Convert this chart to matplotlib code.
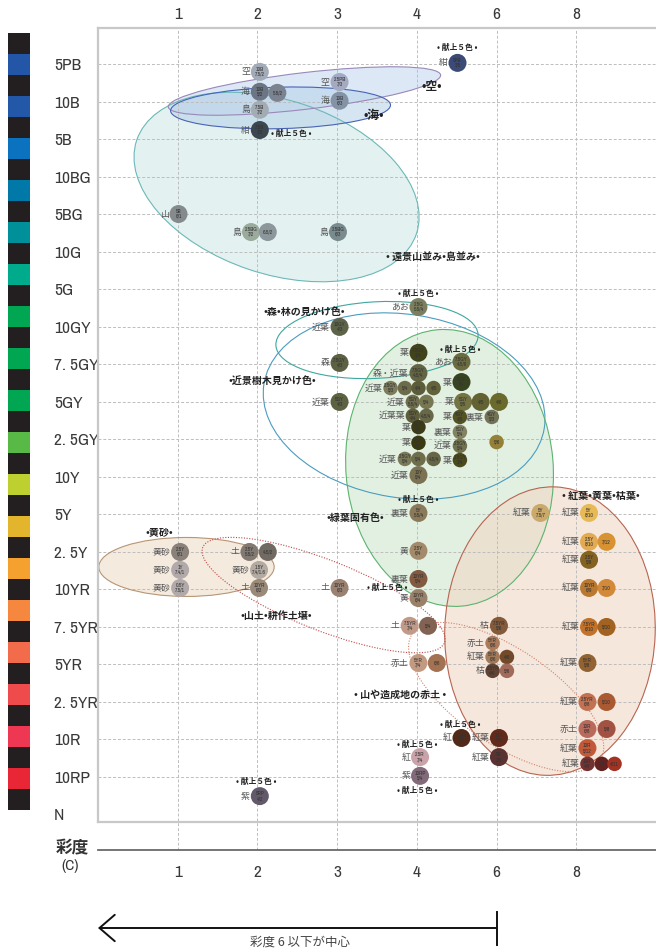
import matplotlib
matplotlib.use("Agg")
import matplotlib.pyplot as plt
from matplotlib.patches import Ellipse
from matplotlib import transforms, font_manager

plt.rcParams['font.family'] = ['Noto Sans CJK JP', 'DejaVu Sans']

# a narrow face for the Latin labels, if one is installed
def narrow_font():
    fonts = [f for f in font_manager.fontManager.ttflist
             if f.stretch in ('condensed', 'semi-condensed', 'extra-condensed')
             and f.style == 'normal' and f.weight in (400, 'normal', 'regular', 'book')]
    fonts.sort(key=lambda f: (0 if 'Liberation' in f.name else 1, f.name))
    if fonts:
        return font_manager.FontProperties(fname=fonts[0].fname)
    return font_manager.FontProperties(family='DejaVu Sans')

########################################################################
# data
hue_labels = ['5PB', '10B', '5B', '10BG', '5BG', '10G', '5G', '10GY', '7. 5GY', '5GY',
              '2. 5GY', '10Y', '5Y', '2. 5Y', '10YR', '7. 5YR', '5YR', '2. 5YR', '10R',
              '10RP', 'N']
chroma_labels = ['1', '2', '3', '4', '6', '8']
hue_strip = ['#2356a6', '#2358a8', '#0a72bf', '#0078a8', '#00909a', '#00ab8c',
             '#00a651', '#00a651', '#00a651', '#59b947', '#bdd02f', '#e2b52c',
             '#f5a12f', '#f5873e', '#f26b4b', '#ef4b4c', '#ee3753', '#e82636']

dot_name = ['空', '海', '', '島', '紺', '空', '海', '紺',
            '山', '島', '', '島',
            'あお', '近葉', '森', '近葉', '葉', '森・近葉', 'あお', '葉',
            '近葉', '', '', '', '近葉', '', '葉', '', '',
            '近葉葉', '', '葉', '裏葉', '葉', '裏葉', '', '葉', '近葉',
            '近葉', '', '', '葉', '近葉',
            '裏葉', '黄', '裏葉', '黄', '土',
            '黄砂', '黄砂', '黄砂', '土', '', '黄砂', '土',
            '紅葉', '紅葉', '紅葉', '', '紅葉', '紅葉', '', '紅葉', '',
            '土', '', '枯', '赤土', '紅葉', '', '枯', '',
            '赤土', '', '紅葉', '紅葉', '', '紅', '紅葉', '紅葉',
            '赤土', '', '紅葉', '紅葉', '', '',
            '紅', '紫', '紫']
dot_code = ['10B\n7.5/2', '10B\n5/2', '5.5/2', '7.5B\n7/2', '7.5B\n3/2', '2.5PB\n7/3', '10B\n6/3', '5PB\n3/5',
            '5B\n6/1', '2.5BG\n7/2', '6.5/2', '2.5BG\n6/3',
            '2.5G\n5.5/4', '10GY\n4/3', '7.5GY\n4/3', '5GY\n4/3', '7.5GY\n3/4', '7.5GY\n4.5/4', '7.5GY\n4.5/6', '5GY\n3/4',
            '2.5GY\n5/3', '5/4', '4/4', '4/5', '5GY\n5.5/4', '5/4', '5GY\n5/5', '4/5', '4/6',
            '5GY\n4/4', '4.5/4', '4GY\n4/5', '4GY\n5/3', '5GY\n3/4', '5GY\n5/4', '5/6', '5GY\n3/4', '2.5GY\n5/4',
            '2.5GY\n5/4', '5/4', '4.5/4', '2.5GY\n3/4', '10Y\n5/4',
            '5Y\n5.5/4', '2.5Y\n6/4', '10YR\n5/4', '10YR\n6/4', '10YR\n6/3',
            '2.5Y\n6/1', '1Y\n7.4/1', '0.5Y\n7.5/1', '2.5Y\n5.5/2', '4.5/2', '1.5Y\n7.4/1.6', '10YR\n6/2',
            '5Y\n7.5/7', '5Y\n8/10', '2.5Y\n8/10', '7/12', '2.5Y\n5/8', '10YR\n6/9', '7/10', '7.5YR\n6/10', '5/10',
            '7.5YR\n7/4', '5/4', '7.5YR\n5/6', '5YR\n6/6', '5YR\n6/6', '4/6', '2.5YR\n4/6', '5/6',
            '5YR\n7/4', '6/6', '5YR\n5/8', '2.5YR\n6/8', '5/10', '10R\n3/5', '10R\n3/6', '5R\n3/5',
            '10R\n6/8', '5/8', '10R\n5/12', '10R\n4/8', '3/8', '4/11',
            '2.5R\n7/4', '10RP\n5/4', '5RP\n4/2']
# x: chroma column (1..6 -> 1,2,3,4,6,8), y: hue row (0 = 5PB ... 20 = N)
dot_x = [2.03, 2.03, 2.25, 2.03, 2.03, 3.03, 3.03, 4.51,
         1.01, 1.92, 2.13, 3.01,
         4.02, 3.03, 3.03, 3.03, 4.02, 4.02, 4.56, 4.56,
         3.67, 3.85, 4.02, 4.21, 3.95, 4.12, 4.58, 4.80, 5.03,
         3.95, 4.12, 4.54, 4.94, 4.02, 4.54, 5.00, 4.02, 4.54,
         3.85, 4.02, 4.21, 4.54, 4.02,
         4.02, 4.02, 4.02, 4.02, 3.03,
         1.03, 1.03, 1.03, 1.90, 2.13, 2.02, 2.02,
         5.55, 6.16, 6.16, 6.38, 6.16, 6.16, 6.38, 6.16, 6.38,
         3.91, 4.14, 5.03, 4.95, 4.95, 5.13, 4.95, 5.13,
         4.02, 4.25, 6.14, 6.14, 6.38, 4.56, 5.03, 5.03,
         6.14, 6.38, 6.14, 6.14, 6.32, 6.48,
         4.04, 4.04, 2.03]
dot_y = [0.20, 0.73, 0.76, 1.21, 1.75, 0.47, 0.97, -0.04,
         3.99, 4.47, 4.47, 4.47,
         6.47, 7.00, 7.96, 9.00, 7.69, 8.23, 7.93, 8.47,
         8.63, 8.63, 8.63, 8.63, 9.00, 9.00, 9.00, 9.00, 9.00,
         9.37, 9.37, 9.40, 9.40, 9.67, 9.80, 10.07, 10.09, 10.17,
         10.52, 10.52, 10.52, 10.55, 10.95,
         11.96, 12.97, 13.72, 14.23, 13.96,
         13.00, 13.48, 13.96, 13.00, 13.00, 13.48, 13.96,
         11.96, 11.96, 12.73, 12.73, 13.21, 13.96, 13.96, 15.00, 15.00,
         14.97, 14.97, 14.97, 15.43, 15.80, 15.80, 16.17, 16.17,
         15.96, 15.96, 15.96, 17.00, 17.00, 17.96, 17.96, 18.47,
         17.72, 17.72, 18.23, 18.65, 18.65, 18.65,
         18.47, 18.97, 19.51]
dot_color = ['#a3abb8', '#6b7584', '#7b8391', '#a4acb3', '#3d474f', '#a4aac2', '#8492a6', '#3b4a77',
             '#858b8c', '#9aaa9c', '#8c979b', '#7a8b8f',
             '#7b7f5e', '#5c6349', '#5b6142', '#5c6242', '#41431c', '#626444', '#6b6b42', '#384421',
             '#7c7b5c', '#6c6c4a', '#5b5c3a', '#62623b', '#6f6f4d', '#777752', '#737343', '#626232', '#6a6a2c',
             '#5e5e3c', '#686848', '#525224', '#727254', '#3b3b18', '#828262', '#958038', '#3a3a12', '#72724f',
             '#7a7a58', '#6e6e4c', '#666646', '#4a4a1a', '#7a7252',
             '#8a7a5a', '#a28a6a', '#825a42', '#9a826a', '#9a8272',
             '#8a827a', '#b2aaaa', '#b2aaaa', '#827a72', '#716a62', '#b3aaa2', '#9a8a7a',
             '#caa96a', '#e8ba55', '#e2aa52', '#d99232', '#836222', '#b87a32', '#d28a3a', '#c2722a', '#a26222',
             '#c29a8a', '#826252', '#835a3a', '#aa7a5a', '#a27a5a', '#724a2a', '#624232', '#a26a5a',
             '#c29a82', '#a27252', '#926232', '#c27252', '#aa5a32', '#522a1a', '#622a1a', '#5a3232',
             '#ba6a5a', '#a25242', '#c25a3a', '#723232', '#622222', '#a23222',
             '#caa2aa', '#826a7a', '#625a6a']
small_dots = set(list(range(20, 26)) + list(range(29, 42)) + list(range(67, 72)) + [83, 84, 85])

gift_x = [4.51, 2.43, 4.02, 4.54, 4.02, 3.63, 4.54, 4.00, 4.00, 1.99]
gift_y = [-0.44, 1.83, 6.12, 7.59, 11.59, 13.96, 17.61, 18.12, 19.37, 19.11]

region_text = ['•空•', '•海•', '• 遠景山並み•島並み•', '•森•林の見かけ色•', '•近景樹木見かけ色•',
               '•緑葉固有色•', '• 紅葉•黄葉•枯葉•', '•黄砂•', '•山土•耕作土壌•', '• 山や造成地の赤土 •']
region_x = [4.19, 3.46, 4.20, 2.59, 2.19, 3.23, 6.31, 0.77, 2.24, 3.79]
region_y = [0.60, 1.37, 5.13, 6.60, 8.47, 12.09, 11.51, 12.47, 14.71, 16.81]

# ellipses: centre (chroma col, hue row), semi axes in chroma-column units, angle in degrees
ell_x = [2.24, 2.59, 2.29, 3.50, 3.84, 4.41, 5.67, 1.11, 2.83, 5.12]
ell_y = [3.27, 0.71, 1.16, 7.35, 9.11, 10.76, 15.11, 13.40, 14.15, 16.87]
ell_a = [1.85, 1.72, 1.38, 1.27, 1.78, 1.30, 1.32, 1.10, 1.63, 1.42]
ell_b = [1.09, 0.23, 0.26, 0.48, 1.15, 1.74, 1.81, 0.37, 0.44, 0.60]
ell_angle = [-18.5, 6.7, 1.5, 3, -9, 5, -2, 0, -21.5, -34]
ell_face = ['#d2e8e8', '#c6d9f0', '#bad4e9', 'none', 'none', '#cfe6cf', '#f0d7c6', '#eedcc8', 'none', 'none']
ell_edge = ['#6cb8b8', '#9a88b8', '#4863b5', '#3ea89e', '#4a9cc0', '#5db36f', '#b86450', '#b89574',
            '#c04848', '#d4826a']
ell_dotted = [False, False, False, False, False, False, False, False, True, True]

########################################################################
NARROW = narrow_font()
W, H = 656, 952
fig = plt.figure(figsize=(W / 100, H / 100), dpi=100)
ax = fig.add_axes([98 / W, 1 - 822 / H, 558 / W, 794 / H])
ax.set_xlim(0, 7.0)
ax.set_ylim(20.2, -0.97)

# hue strip on the left
cax = fig.add_axes([8 / W, 1 - 810 / H, 22 / W, 777 / H])
strip = []
for c in hue_strip:
    strip += ['#231f20', c]
strip.append('#231f20')
cax.barh(range(len(strip)), 1, height=1, align='edge', color=strip)
cax.set_ylim(len(strip), 0)
cax.set_xlim(0, 1)
cax.axis('off')

# ellipses
unit_in = (558 / 100) / 7.0
for i in range(len(ell_x)):
    trans = fig.dpi_scale_trans + transforms.ScaledTranslation(ell_x[i], ell_y[i], ax.transData)
    if ell_face[i] != 'none':
        ax.add_patch(Ellipse((0, 0), 2 * ell_a[i] * unit_in, 2 * ell_b[i] * unit_in, angle=ell_angle[i],
                             transform=trans, facecolor=ell_face[i], alpha=0.6, edgecolor='none', zorder=1))
    ls = (0, (1, 1.4)) if ell_dotted[i] else '-'
    ax.add_patch(Ellipse((0, 0), 2 * ell_a[i] * unit_in, 2 * ell_b[i] * unit_in, angle=ell_angle[i],
                         transform=trans, facecolor='none', edgecolor=ell_edge[i], lw=0.8, ls=ls, zorder=2))

# grid
ax.hlines(range(len(hue_labels) - 1), 0, 7, colors='#bdbdbd', linestyles=(0, (3, 2)), lw=0.7, zorder=1.5)
for i in range(len(chroma_labels)):
    ax.plot([i + 1, i + 1], [-0.0353, 1], transform=ax.get_xaxis_transform(), color='#bdbdbd',
            ls=(0, (3, 2)), lw=0.7, clip_on=False, zorder=1.5)

for side in ['left', 'top', 'bottom']:
    ax.spines[side].set_color('#c8c8c8')
    ax.spines[side].set_linewidth(1.6)
ax.spines['right'].set_visible(False)

# axis labels
ax.set_xticks([])
ax.set_yticks(range(len(hue_labels)), hue_labels, fontproperties=NARROW, fontsize=12.5, color='#3a3a3a')
for lbl in ax.get_yticklabels():
    lbl.set_horizontalalignment('left')
ax.tick_params(axis='y', length=0, pad=31.7)
for i, lab in enumerate(chroma_labels):
    ax.text(i + 1, 1.0176, lab, transform=ax.get_xaxis_transform(), ha='center', va='center',
            fontproperties=NARROW, fontsize=12.5, color='#3a3a3a')
    ax.text(i + 1, -0.063, lab, transform=ax.get_xaxis_transform(), ha='center', va='center',
            fontproperties=NARROW, fontsize=12.5, color='#3a3a3a')

# chroma base line
ax.plot([0, 7], [-0.0353, -0.0353], transform=ax.get_xaxis_transform(), color='#6a6a6a', lw=1.3,
        clip_on=False)
fig.text(72 / W, 1 - 848 / H, '彩度', ha='center', va='center', fontsize=12, weight='bold', color='#333')
fig.text(70 / W, 1 - 866 / H, '(C)', ha='center', va='center', fontproperties=NARROW, fontsize=11,
         color='#333')

# dots
sizes = [109 if i in small_dots else 168 for i in range(len(dot_x))]
ax.scatter(dot_x, dot_y, s=sizes, c=dot_color, edgecolors='none', zorder=4)
for i in range(len(dot_x)):
    r = 5.2 if i in small_dots else 6.5
    ax.text(dot_x[i], dot_y[i], dot_code[i], ha='center', va='center', fontsize=4.0,
            fontproperties=NARROW, color='#333', linespacing=0.95, zorder=5)
    if dot_name[i]:
        ax.annotate(dot_name[i], (dot_x[i], dot_y[i]), xytext=(-r - 0.6, 0), textcoords='offset points',
                    ha='right', va='center', fontsize=6.4, color='#555', zorder=5)

for x, y in zip(gift_x, gift_y):
    ax.text(x, y, '• 献上５色 •', ha='center', va='center', fontsize=5.6, weight='bold', color='#222',
            zorder=6)
for i, t in enumerate(region_text):
    fs = 8.5 if len(t) <= 3 else 7.2
    ax.text(region_x[i], region_y[i], t, ha='center', va='center', fontsize=fs, weight='bold',
            color='#222', zorder=6)

# arrow below
arrow_y = 1 - 928 / H
ax.annotate('', xy=(0, arrow_y), xytext=(5, arrow_y), xycoords=('data', 'figure fraction'),
            arrowprops=dict(arrowstyle='->,head_length=1.1,head_width=0.95', lw=1.4, color='#111',
                            shrinkA=0, shrinkB=0))
bt = transforms.blended_transform_factory(ax.transData, fig.transFigure)
ax.plot([5, 5], [1 - 912 / H, 1 - 945 / H], transform=bt, color='#111', lw=1.4, clip_on=False)
fig.text(300 / W, 1 - 942 / H, '彩度 6 以下が中心', ha='center', va='center', fontsize=9, color='#444')

fig.savefig('out.png', dpi=100)
